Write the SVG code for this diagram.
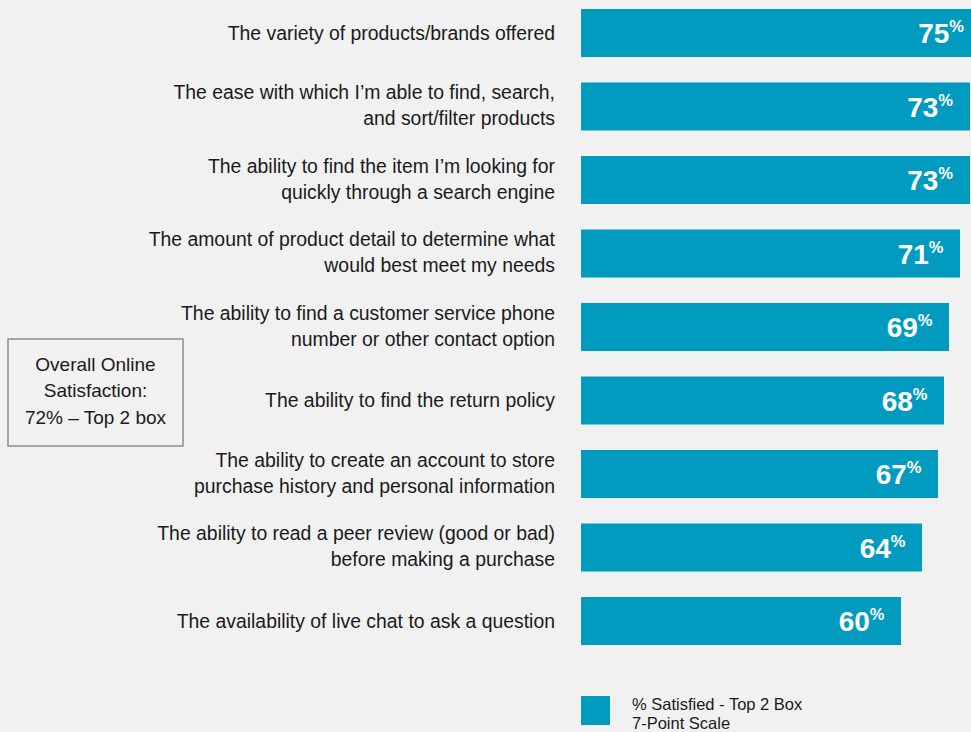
<svg xmlns="http://www.w3.org/2000/svg" width="971" height="732" viewBox="0 0 971 732">
<style>
.bg{fill:#f1f1f1}
.bar{fill:#019bbf}
.lbl{font-family:"Liberation Sans",Arial,sans-serif;font-size:19.4px;fill:#1a1a1a;text-anchor:end}
.val{font-family:"Liberation Sans",Arial,sans-serif;font-size:28px;font-weight:bold;fill:#ffffff;text-anchor:end}
.pct{font-size:16.5px;font-weight:bold}
.box{fill:none;stroke:#7f7f7f;stroke-width:1.3}
.boxt{font-family:"Liberation Sans",Arial,sans-serif;font-size:19px;fill:#1a1a1a;text-anchor:middle}
.leg{font-family:"Liberation Sans",Arial,sans-serif;font-size:16.5px;fill:#1a1a1a}
</style>
<rect class="bg" x="0" y="0" width="971" height="732"/>
<g id="bar1"><rect class="bar" x="581" y="9" width="400" height="48"/><text class="val" x="964" y="43">75<tspan class="pct" dy="-11">%</tspan></text><text class="lbl" x="555" y="39.5">The variety of products/brands offered</text></g>
<g id="bar2"><rect class="bar" x="581" y="82.5" width="389" height="48"/><text class="val" x="953" y="116.5">73<tspan class="pct" dy="-11">%</tspan></text><text class="lbl" x="555" y="99"><tspan x="555">The ease with which I’m able to find, search,</tspan><tspan x="555" y="125">and sort/filter products</tspan></text></g>
<g id="bar3"><rect class="bar" x="581" y="156" width="389" height="48"/><text class="val" x="953" y="190">73<tspan class="pct" dy="-11">%</tspan></text><text class="lbl" x="555" y="172.5"><tspan x="555">The ability to find the item I’m looking for</tspan><tspan x="555" y="198.5">quickly through a search engine</tspan></text></g>
<g id="bar4"><rect class="bar" x="581" y="229.5" width="379" height="48"/><text class="val" x="943.5" y="263.5">71<tspan class="pct" dy="-11">%</tspan></text><text class="lbl" x="555" y="246"><tspan x="555">The amount of product detail to determine what</tspan><tspan x="555" y="272">would best meet my needs</tspan></text></g>
<g id="bar5"><rect class="bar" x="581" y="303" width="368" height="48"/><text class="val" x="932.5" y="337">69<tspan class="pct" dy="-11">%</tspan></text><text class="lbl" x="555" y="319.5"><tspan x="555">The ability to find a customer service phone</tspan><tspan x="555" y="345.5">number or other contact option</tspan></text></g>
<g id="bar6"><rect class="bar" x="581" y="376.5" width="363" height="48"/><text class="val" x="927.5" y="410.5">68<tspan class="pct" dy="-11">%</tspan></text><text class="lbl" x="555" y="407">The ability to find the return policy</text></g>
<g id="bar7"><rect class="bar" x="581" y="450" width="357" height="48"/><text class="val" x="921.5" y="484">67<tspan class="pct" dy="-11">%</tspan></text><text class="lbl" x="555" y="466.5"><tspan x="555">The ability to create an account to store</tspan><tspan x="555" y="492.5">purchase history and personal information</tspan></text></g>
<g id="bar8"><rect class="bar" x="581" y="523.5" width="341" height="48"/><text class="val" x="905.5" y="557.5">64<tspan class="pct" dy="-11">%</tspan></text><text class="lbl" x="555" y="540"><tspan x="555">The ability to read a peer review (good or bad)</tspan><tspan x="555" y="566">before making a purchase</tspan></text></g>
<g id="bar9"><rect class="bar" x="581" y="597" width="320" height="48"/><text class="val" x="884.5" y="631">60<tspan class="pct" dy="-11">%</tspan></text><text class="lbl" x="555" y="627.5">The availability of live chat to ask a question</text></g>
<g id="summary"><rect class="box" x="8" y="339" width="175" height="107"/><text class="boxt" x="95.5" y="371">Overall Online</text><text class="boxt" x="95.5" y="397">Satisfaction:</text><text class="boxt" x="95.5" y="423.5">72% – Top 2 box</text></g>
<g id="legend"><rect class="bar" x="581" y="696" width="29" height="29"/><text class="leg" x="632" y="710">% Satisfied - Top 2 Box</text><text class="leg" x="632" y="729">7-Point Scale</text></g>
<g id="connectors"/>
</svg>
